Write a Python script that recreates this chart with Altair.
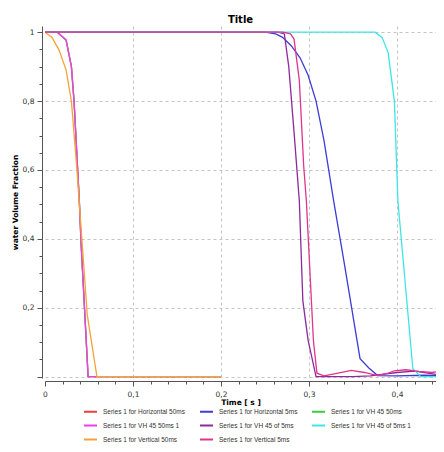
import altair as alt
import pandas as pd

series_names = [
    "Series 1 for Horizontal 50ms",
    "Series 1 for Horizontal 5ms",
    "Series 1 for VH 45 50ms",
    "Series 1 for VH 45 50ms 1",
    "Series 1 for VH 45 of 5ms",
    "Series 1 for VH 45 of 5ms 1",
    "Series 1 for Vertical 50ms",
    "Series 1 for Vertical 5ms",
]
series_colors = ["#e8413c", "#3c3cd8", "#3ccc3c", "#f23cf0", "#8c2a9c", "#3ce6e6", "#f5a23a", "#e0358c"]

# Horizontal 50ms (hidden under VH 45 50ms 1)
t_h50 = [0, 0.014, 0.024, 0.03, 0.033, 0.039, 0.041, 0.049, 0.1, 0.15, 0.2]
v_h50 = [1, 1, 0.977, 0.9, 0.8, 0.51, 0.387, 0, 0, 0, 0]
# Horizontal 5ms
t_h5 = [0, 0.1, 0.2, 0.25, 0.262, 0.27, 0.28, 0.29, 0.299, 0.308, 0.317, 0.328, 0.34, 0.358, 0.368, 0.378, 0.4, 0.43, 0.45]
v_h5 = [1, 1, 1, 1, 0.995, 0.985, 0.96, 0.925, 0.875, 0.8, 0.686, 0.51, 0.33, 0.052, 0.025, 0.003, 0.002, 0.004, 0.003]
# VH 45 50ms (hidden)
t_vh50 = [0, 0.014, 0.024, 0.03, 0.033, 0.039, 0.041, 0.049, 0.1, 0.15, 0.2]
v_vh50 = [1, 1, 0.977, 0.9, 0.8, 0.51, 0.387, 0, 0, 0, 0]
# VH 45 50ms 1
t_vh50b = [0, 0.014, 0.024, 0.03, 0.033, 0.039, 0.041, 0.049, 0.1, 0.15, 0.2]
v_vh50b = [1, 1, 0.977, 0.9, 0.8, 0.51, 0.387, 0, 0, 0, 0]
# VH 45 of 5ms
t_vh5 = [0, 0.1, 0.2, 0.25, 0.265, 0.272, 0.277, 0.283, 0.289, 0.293, 0.299, 0.308, 0.35, 0.37, 0.4, 0.42, 0.45]
v_vh5 = [1, 1, 1, 1, 1, 0.995, 0.9, 0.71, 0.51, 0.22, 0.105, 0, 0, 0.002, 0.012, 0.016, 0.004]
# VH 45 of 5ms 1
t_vh5b = [0, 0.1, 0.2, 0.3, 0.375, 0.383, 0.39, 0.397, 0.401, 0.418, 0.427, 0.44, 0.45]
v_vh5b = [1, 1, 1, 1, 1, 0.985, 0.94, 0.8, 0.51, 0.023, 0, 0, 0]
# Vertical 50ms
t_v50 = [0, 0.008, 0.016, 0.024, 0.03, 0.036, 0.042, 0.048, 0.059, 0.1, 0.15, 0.2]
v_v50 = [1, 0.985, 0.948, 0.89, 0.8, 0.61, 0.395, 0.18, 0, 0, 0, 0]
# Vertical 5ms
t_v5 = [0, 0.1, 0.2, 0.27, 0.279, 0.283, 0.289, 0.294, 0.297, 0.305, 0.309, 0.317, 0.333, 0.348, 0.363, 0.378, 0.39, 0.397, 0.41, 0.425, 0.44, 0.45]
v_v5 = [1, 1, 1, 1, 0.995, 0.98, 0.86, 0.61, 0.51, 0.105, 0.01, 0.002, 0.01, 0.018, 0.012, 0.003, 0.01, 0.017, 0.02, 0.015, 0.012, 0.016]

all_t = [t_h50, t_h5, t_vh50, t_vh50b, t_vh5, t_vh5b, t_v50, t_v5]
all_v = [v_h50, v_h5, v_vh50, v_vh50b, v_vh5, v_vh5b, v_v50, v_v5]

x_ticks = [0, 0.02, 0.04, 0.06, 0.08, 0.1, 0.12, 0.14, 0.16, 0.18, 0.2, 0.22, 0.24,
           0.26, 0.28, 0.3, 0.32, 0.34, 0.36, 0.38, 0.4, 0.42, 0.44]
y_ticks = [0, 0.05, 0.1, 0.15, 0.2, 0.25, 0.3, 0.35, 0.4, 0.45, 0.5, 0.55, 0.6,
           0.65, 0.7, 0.75, 0.8, 0.85, 0.9, 0.95, 1.0]

rows = []
for i, name in enumerate(series_names):
    for k, (t, v) in enumerate(zip(all_t[i], all_v[i])):
        rows.append({"series": name, "time": t, "frac": v, "ord": k})
df = pd.DataFrame(rows)

x_major = "abs(datum.value*10 - round(datum.value*10)) < 0.001"
y_major = "abs(datum.value*5 - round(datum.value*5)) < 0.001"

x_axis = alt.Axis(
    values=x_ticks,
    title="Time [ s ]",
    titleFont="DejaVu Sans", titleFontSize=7.5, titleFontWeight="bold", titleColor="#000",
    titlePadding=1,
    labelFont="DejaVu Sans", labelFontSize=7.5, labelColor="#333",
    labelExpr=f"({x_major}) ? replace(format(datum.value, '~g'), '.', ',') : ''",
    labelPadding=4, labelFlush=False, labelOverlap=False,
    tickSize={"condition": {"test": x_major, "value": 5}, "value": 3},
    tickColor="#555", domainColor="#555", offset=3,
    grid=True, gridDash=[3, 3], gridColor="#c4c4c4",
    gridOpacity={"condition": {"test": f"({x_major}) && datum.value > 0", "value": 1}, "value": 0},
)
y_axis = alt.Axis(
    values=y_ticks,
    title="water Volume Fraction",
    titleFont="DejaVu Sans", titleFontSize=7.5, titleFontWeight="bold", titleColor="#000",
    titlePadding=3,
    labelFont="DejaVu Sans", labelFontSize=7.5, labelColor="#333",
    labelExpr=f"(({y_major}) && datum.value > 0) ? replace(format(datum.value, '~g'), '.', ',') : ''",
    labelPadding=3, labelOverlap=False,
    tickSize={"condition": {"test": y_major, "value": 5}, "value": 3},
    tickColor="#555", domainColor="#555", offset=3,
    grid=True, gridDash=[3, 3], gridColor="#c4c4c4",
    gridOpacity={"condition": {"test": y_major, "value": 1}, "value": 0},
)

chart = alt.Chart(df).mark_line(strokeWidth=1.3, clip=True).encode(
    x=alt.X("time:Q", scale=alt.Scale(domain=[0, 0.4443], nice=False, zero=False), axis=x_axis),
    y=alt.Y("frac:Q", scale=alt.Scale(domain=[-0.004, 1.018], nice=False, zero=False), axis=y_axis),
    color=alt.Color(
        "series:N",
        scale=alt.Scale(domain=series_names, range=series_colors),
        legend=alt.Legend(
            title=None, orient="none", legendX=38, legendY=378,
            direction="horizontal", columns=3, columnPadding=10, rowPadding=2,
            symbolType="stroke", symbolSize=169, symbolStrokeWidth=2,
            labelFont="Liberation Sans", labelFontSize=6.5, labelColor="#333",
            labelOffset=5, labelLimit=200,
        ),
    ),
    detail="series:N",
    order="ord:Q",
).properties(
    width=391,
    height=352,
    padding={"left": 37, "top": 18, "right": 0, "bottom": 66},
    autosize=alt.AutoSizeParams(type="none"),
    title=alt.TitleParams("Title", font="DejaVu Sans", fontSize=10, fontWeight="bold",
                          color="#000", anchor="middle", offset=1),
).configure_view(stroke=None)

chart.save("out.html", embed_options={"renderer": "svg", "actions": False})
